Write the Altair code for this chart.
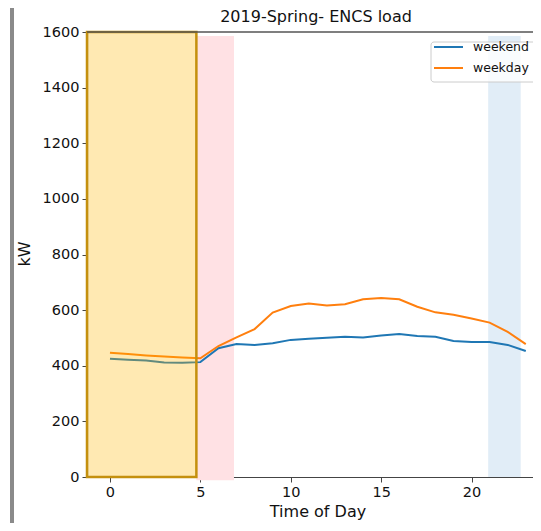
import altair as alt
import pandas as pd

# ---- data ----
hours = list(range(24))
weekend = [425, 422, 419, 412, 411, 413, 463, 478, 475, 481, 493, 497,
           501, 504, 502, 509, 514, 507, 504, 489, 485, 485, 475, 453]
weekday = [447, 442, 437, 433, 430, 427, 471, 502, 532, 591, 615, 624,
           617, 621, 639, 644, 639, 612, 592, 583, 570, 555, 522, 478]
series_names = ["weekend", "weekday"]
series_colors = ["#1f77b4", "#ff7f0e"]

# shaded periods (hours, kW)
span_start = [4.78, 20.92]
span_end = [6.86, 22.72]
span_low = [-12, 0]
span_high = [1586, 1586]
span_colors = ["#FFE1E4", "#E1EDF7"]

box_start, box_end, box_low, box_high = -1.27, 4.78, 0, 1600

x_ticks = [0, 5, 10, 15, 20]
y_ticks = [0, 200, 400, 600, 800, 1000, 1200, 1400, 1600]
x_domain = [-1.27, 23.40]
y_domain = [0, 1600]

W, H = 446, 445
FONT = "DejaVu Sans"

rows = []
for h, a, b in zip(hours, weekend, weekday):
    rows.append({"hour": h, "kW": a, "series": "weekend"})
    rows.append({"hour": h, "kW": b, "series": "weekday"})
df = pd.DataFrame(rows)

spans = pd.DataFrame({"x0": span_start, "x1": span_end,
                      "y0": span_low, "y1": span_high, "c": span_colors})
box = pd.DataFrame({"x0": [box_start], "x1": [box_end],
                    "y0": [box_low], "y1": [box_high]})

xs = alt.Scale(domain=x_domain, nice=False, zero=False)
ys = alt.Scale(domain=y_domain, nice=False, zero=False)

x_axis = alt.Axis(values=x_ticks, format="d", grid=False, title=None)
y_axis = alt.Axis(values=y_ticks, format="d", grid=False, title=None)

span_layer = alt.Chart(spans).mark_rect().encode(
    x=alt.X("x0:Q", scale=xs, axis=x_axis),
    x2="x1:Q",
    y=alt.Y("y0:Q", scale=ys, axis=y_axis),
    y2="y1:Q",
    fill=alt.Fill("c:N", scale=None),
)

lines = alt.Chart(df).mark_line(strokeWidth=2).encode(
    x=alt.X("hour:Q", scale=xs, axis=x_axis),
    y=alt.Y("kW:Q", scale=ys, axis=y_axis),
    color=alt.Color("series:N",
                    scale=alt.Scale(domain=series_names, range=series_colors),
                    legend=None),
    detail="series:N",
)

box_layer = alt.Chart(box).mark_rect(
    fill="#FFB600", fillOpacity=0.3, stroke="#C4900E", strokeWidth=2.5
).encode(
    x=alt.X("x0:Q", scale=xs, axis=x_axis),
    x2="x1:Q",
    y=alt.Y("y0:Q", scale=ys, axis=y_axis),
    y2="y1:Q",
)

top_spine = alt.Chart(box).mark_rule(color="#555555", strokeWidth=1.3).encode(
    x=alt.value(0), x2=alt.value(W), y=alt.value(0)
)

side_bar = alt.Chart(box).mark_rule(color="#8a8a8a", strokeWidth=4).encode(
    x=alt.value(-75), y=alt.value(-24), y2=alt.value(H + 46)
)

title_t = alt.Chart(box).mark_text(
    text="2019-Spring- ENCS load", font=FONT, fontSize=16, align="center",
    baseline="alphabetic", color="#111111"
).encode(x=alt.value(229), y=alt.value(-10))

xlab = alt.Chart(box).mark_text(
    text="Time of Day", font=FONT, fontSize=16, align="center",
    baseline="alphabetic", color="#111111"
).encode(x=alt.value(231), y=alt.value(485))

ylab = alt.Chart(box).mark_text(
    text="kW", font=FONT, fontSize=16, align="center", angle=270,
    baseline="middle", color="#111111"
).encode(x=alt.value(-62), y=alt.value(222))

legend_box = alt.Chart(box).mark_rect(
    fill="white", fillOpacity=0.8, stroke="#cccccc", strokeWidth=1,
    cornerRadius=3
).encode(x=alt.value(344), x2=alt.value(452), y=alt.value(10), y2=alt.value(50))

legend_layers = [legend_box]
for i, (name, col) in enumerate(zip(series_names, series_colors)):
    yy = 15 + 21 * i
    legend_layers.append(
        alt.Chart(box).mark_rule(color=col, strokeWidth=2).encode(
            x=alt.value(347), x2=alt.value(376), y=alt.value(yy))
    )
    legend_layers.append(
        alt.Chart(box).mark_text(
            text=name, font=FONT, fontSize=12.5, align="left",
            baseline="middle", color="#111111"
        ).encode(x=alt.value(386), y=alt.value(yy))
    )

chart = alt.layer(
    span_layer, lines, box_layer, top_spine, side_bar,
    title_t, xlab, ylab, *legend_layers
).properties(
    width=W, height=H,
    padding={"left": 79, "top": 24, "right": 0, "bottom": 46},
    autosize=alt.AutoSizeParams(type="none"),
).configure_view(stroke=None).configure_axis(
    labelFont=FONT, labelFontSize=14.5, labelColor="#111111",
    tickSize=5, tickColor="#444444", domainColor="#444444",
    domainWidth=1.2, tickWidth=1, labelPadding=3,
)

chart.save("out.html", embed_options={"renderer": "svg", "actions": False})
